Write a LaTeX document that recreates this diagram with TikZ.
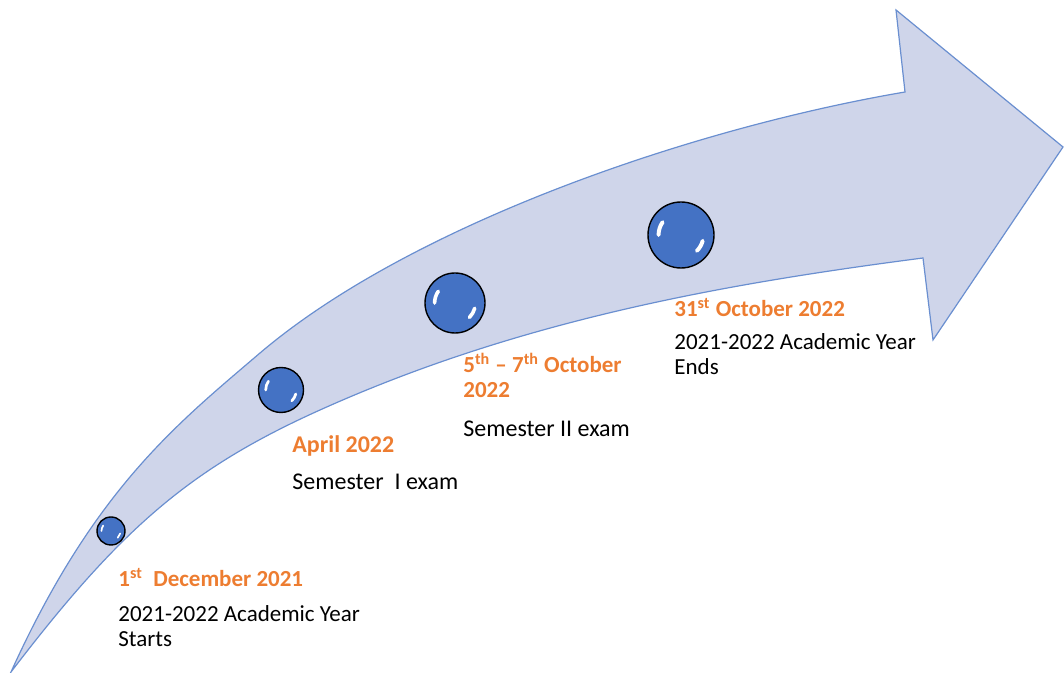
\documentclass[tikz,border=0pt]{standalone}
\usepackage{fontspec}
\setmainfont{Carlito}
\usepackage{xcolor}
\usetikzlibrary{positioning}
\definecolor{arrowfill}{HTML}{CFD5EA}
\definecolor{arrowline}{HTML}{6A8FD0}
\definecolor{beadblue}{HTML}{4472C4}
\definecolor{dateorange}{HTML}{ED7D31}
\tikzset{
  bead/.style={circle, draw=black, line width=0.7pt, fill=beadblue, inner sep=0pt},
  datetext/.style={anchor=base west, inner sep=0pt, text=dateorange, font=\bfseries\fontsize{11.5}{12.5}\selectfont, align=left},
  eventtext/.style={anchor=base west, inner sep=0pt, font=\fontsize{11.5}{12.5}\selectfont, align=left}
}

\begin{document}
\begin{tikzpicture}[x=0.5pt, y=0.5pt]
\useasboundingbox (0,0) rectangle (1064,673);
\filldraw [fill=arrowfill, draw=arrowline, line width=0.6pt, line join=miter]
  (11,1) .. controls (94,184) and (177,249) .. (260,320)
  .. controls (410,447.5) and (690,544.4) .. (905,581)
  -- (896,663) -- (1063,526) -- (933,333) -- (923,415)
  .. controls (723,389) and (520,353) .. (320,263)
  .. controls (190,204.5) and (121,145) .. (11,1) -- cycle;
\node [bead, minimum size=14pt] (dec) at (111,142) {};
\node [bead, minimum size=22.5pt] (apr) at (281,283) {};
\node [bead, minimum size=30pt] (octa) at (455,370) {};
\node [bead, minimum size=33pt] (octb) at (681,438) {};
\foreach \b/\r in {dec/7, apr/11.25, octa/15, octb/16.5} {
  \draw [white, line width=0.12*\r pt, line cap=round] ([shift={(145:0.68*\r pt)}]\b.center) arc [start angle=145, end angle=180, radius=0.68*\r pt];
  \draw [white, line width=0.12*\r pt, line cap=round] ([shift={(-15:0.68*\r pt)}]\b.center) arc [start angle=-15, end angle=-45, radius=0.68*\r pt];
}
\node [datetext] (decdate) at (118,86) {1\textsuperscript{st}\ \ December 2021};
\node [eventtext] (decevent) at (118,26) {2021-2022 Academic Year\\Starts};
\node [datetext, font=\bfseries\fontsize{12}{12.5}\selectfont] (aprdate) at (292,220) {April 2022};
\node [eventtext, font=\fontsize{12}{12.5}\selectfont] (aprevent) at (292,183) {Semester\ \ I exam};
\node [datetext] (octadate) at (463,275) {5\textsuperscript{th}\ – 7\textsuperscript{th} October\\2022};
\node [eventtext, font=\fontsize{12}{12.5}\selectfont] (octaevent) at (463,236) {Semester II exam};
\node [datetext] (octbdate) at (674,356) {31\textsuperscript{st} October 2022};
\node [eventtext] (octbevent) at (674,298) {2021-2022 Academic Year\\Ends};
\end{tikzpicture}
\end{document}
